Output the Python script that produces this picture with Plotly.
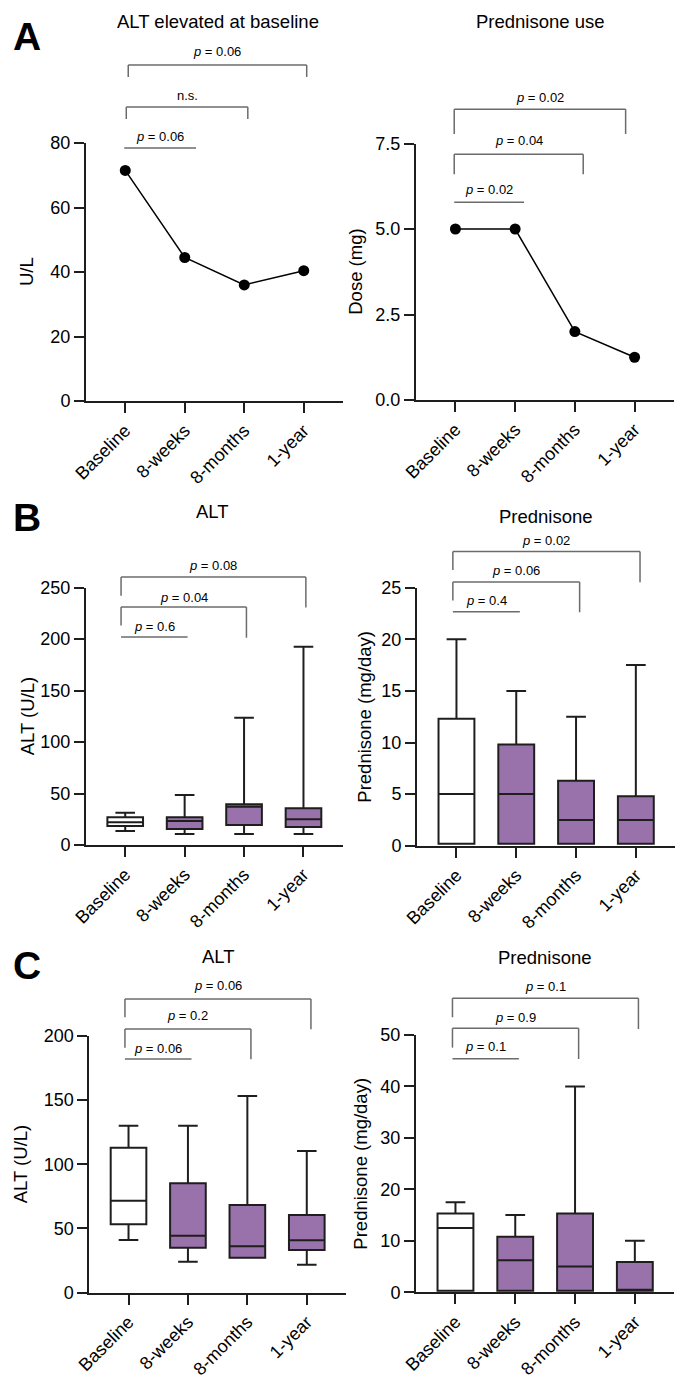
import plotly.graph_objects as go

# the page body keeps an 8px margin, so the figure is drawn 8px smaller
OFF = 8
W, H = 692 - OFF, 1378 - OFF

categories = ["Baseline", "8-weeks", "8-months", "1-year"]

# Panel A: medians over time
alt_elevated = [71.5, 44.5, 36.0, 40.4]
pred_use = [5.0, 5.0, 2.0, 1.25]

# Panel B: box stats (lower whisker, q1, median, q3, upper whisker)
b_alt_low = [13.6, 10.7, 10.7, 10.7]
b_alt_q1 = [18.4, 15.5, 19.4, 17.5]
b_alt_med = [22.0, 23.3, 37.2, 24.9]
b_alt_q3 = [26.9, 26.9, 39.5, 35.6]
b_alt_high = [31.4, 48.5, 123.6, 192.5]

b_pred_low = [0.2, 0.2, 0.2, 0.2]
b_pred_q1 = [0.2, 0.2, 0.2, 0.2]
b_pred_med = [5.0, 5.0, 2.5, 2.5]
b_pred_q3 = [12.3, 9.8, 6.3, 4.8]
b_pred_high = [20.0, 15.0, 12.5, 17.5]

# Panel C
c_alt_low = [40.9, 24.0, 27.1, 21.7]
c_alt_q1 = [53.2, 34.9, 27.1, 33.1]
c_alt_med = [71.6, 44.3, 36.0, 40.7]
c_alt_q3 = [112.9, 85.1, 68.2, 60.4]
c_alt_high = [130.0, 130.0, 153.2, 110.3]

c_pred_low = [0.3, 0.3, 0.3, 0.3]
c_pred_q1 = [0.3, 0.3, 0.3, 0.3]
c_pred_med = [12.5, 6.25, 5.0, 0.3]
c_pred_q3 = [15.3, 10.8, 15.3, 5.9]
c_pred_high = [17.5, 15.0, 40.0, 10.0]

# significance brackets: (x0, x1, y line, left leg end, right leg end, text y, label)
brackets = {
    1: [(0.05, 3.05, 1.302, 1.256, 1.256, 1.353, "<i>p</i> = 0.06"),
        (0.017, 2.06, 1.140, 1.093, 1.093, 1.186, "n.s."),
        (-0.017, 1.19, 0.981, 0.981, 0.981, 1.027, "<i>p</i> = 0.06")],
    2: [(-0.02, 2.85, 1.134, 1.037, 1.037, 1.181, "<i>p</i> = 0.02"),
        (-0.02, 2.14, 0.958, 0.880, 0.880, 1.010, "<i>p</i> = 0.04"),
        (-0.02, 1.15, 0.771, 0.771, 0.771, 0.819, "<i>p</i> = 0.02")],
    3: [(-0.07, 3.04, 1.041, 0.968, 0.922, 1.084, "<i>p</i> = 0.08"),
        (-0.07, 2.04, 0.924, 0.852, 0.805, 0.963, "<i>p</i> = 0.04"),
        (-0.07, 1.05, 0.808, 0.808, 0.808, 0.848, "<i>p</i> = 0.6")],
    4: [(-0.06, 3.07, 1.140, 1.069, 1.021, 1.182, "<i>p</i> = 0.02"),
        (-0.06, 2.06, 1.022, 0.950, 0.905, 1.066, "<i>p</i> = 0.06"),
        (-0.06, 1.06, 0.907, 0.907, 0.907, 0.952, "<i>p</i> = 0.4")],
    5: [(-0.06, 3.07, 1.144, 1.073, 1.026, 1.195, "<i>p</i> = 0.06"),
        (-0.06, 2.06, 1.027, 0.954, 0.909, 1.081, "<i>p</i> = 0.2"),
        (-0.06, 1.06, 0.910, 0.910, 0.910, 0.952, "<i>p</i> = 0.06")],
    6: [(-0.05, 3.06, 1.143, 1.069, 1.023, 1.190, "<i>p</i> = 0.1"),
        (-0.05, 2.06, 1.026, 0.951, 0.907, 1.067, "<i>p</i> = 0.9"),
        (-0.05, 1.06, 0.908, 0.908, 0.908, 0.954, "<i>p</i> = 0.1")],
}

FONT = "Arial, Liberation Sans, sans-serif"
INK = "#1e1e1e"
PURPLE = "#9a72ab"
GREY = "#6b6b6b"


def px(x):
    return (x - OFF) / W


def py(y):
    return 1 - (y - OFF) / H


# axis pixel boxes: left, right, top, bottom
boxes = {
    1: (86, 343, 143, 401),
    2: (416, 674, 143.5, 400),
    3: (86, 342.7, 587.5, 845),
    4: (417, 675.3, 587.7, 845.7),
    5: (89.3, 346, 1036, 1292.5),
    6: (416, 674.3, 1035, 1292.3),
}
yranges = {1: (0, 80, 20), 2: (0, 7.5, 2.5), 3: (0, 250, 50),
           4: (0, 25, 5), 5: (0, 200, 50), 6: (0, 50, 10)}

fig = go.Figure()


def add_boxes(n, low, q1, med, q3, high):
    ax = "" if n == 1 else str(n)
    for idx, color in [([0], "white"), ([1, 2, 3], PURPLE)]:
        fig.add_trace(go.Box(
            x=[categories[i] for i in idx],
            lowerfence=[low[i] for i in idx],
            q1=[q1[i] for i in idx],
            median=[med[i] for i in idx],
            q3=[q3[i] for i in idx],
            upperfence=[high[i] for i in idx],
            fillcolor=color,
            line=dict(color=INK, width=2),
            width=0.6,
            whiskerwidth=0.55,
            boxpoints=False,
            xaxis="x" + ax, yaxis="y" + ax,
            showlegend=False,
        ))


fig.add_trace(go.Scatter(x=categories, y=alt_elevated, mode="lines+markers",
                         line=dict(color="black", width=1.5),
                         marker=dict(color="black", size=11),
                         cliponaxis=False, showlegend=False,
                         xaxis="x", yaxis="y"))
fig.add_trace(go.Scatter(x=categories, y=pred_use, mode="lines+markers",
                         line=dict(color="black", width=1.5),
                         marker=dict(color="black", size=11),
                         cliponaxis=False, showlegend=False,
                         xaxis="x2", yaxis="y2"))

add_boxes(3, b_alt_low, b_alt_q1, b_alt_med, b_alt_q3, b_alt_high)
add_boxes(4, b_pred_low, b_pred_q1, b_pred_med, b_pred_q3, b_pred_high)
add_boxes(5, c_alt_low, c_alt_q1, c_alt_med, c_alt_q3, c_alt_high)
add_boxes(6, c_pred_low, c_pred_q1, c_pred_med, c_pred_q3, c_pred_high)

layout = dict(
    template="none",
    width=W, height=H, autosize=False,
    margin=dict(l=0, r=0, t=0, b=0, pad=0),
    paper_bgcolor="white", plot_bgcolor="white",
    font=dict(family=FONT, color="black"),
    boxmode="overlay",
)
axis_common = dict(showline=True, linecolor=INK, linewidth=2,
                   ticks="outside", ticklen=10, tickwidth=2, tickcolor=INK,
                   showgrid=False, zeroline=False, automargin=False,
                   tickfont=dict(size=18, family=FONT, color="black"))
for n, (l, r, t, b) in boxes.items():
    ax = "" if n == 1 else str(n)
    y0, y1, dt = yranges[n]
    layout["xaxis" + ax] = dict(axis_common, domain=[px(l), px(r)],
                                anchor="y" + ax, type="category",
                                categoryorder="array", categoryarray=categories,
                                range=[-0.66, 3.66], tickangle=-45)
    yax = dict(axis_common, domain=[py(b), py(t)], anchor="x" + ax,
               range=[y0, y1], dtick=dt, tick0=0)
    if n == 2:
        yax["tickformat"] = ".1f"
    layout["yaxis" + ax] = yax

fig.update_layout(**layout)

# brackets
for n, items in brackets.items():
    ax = "" if n == 1 else str(n)
    xr, yr = "x" + ax, "y" + ax + " domain"
    for x0, x1, yl, yleg0, yleg1, yt, label in items:
        line = dict(color=GREY, width=1.5)
        fig.add_shape(type="line", xref=xr, yref=yr, x0=x0, x1=x1, y0=yl, y1=yl, line=line)
        if yleg0 != yl:
            fig.add_shape(type="line", xref=xr, yref=yr, x0=x0, x1=x0, y0=yl, y1=yleg0, line=line)
        if yleg1 != yl:
            fig.add_shape(type="line", xref=xr, yref=yr, x0=x1, x1=x1, y0=yl, y1=yleg1, line=line)
        fig.add_annotation(x=(x0 + x1) / 2, y=yt, xref=xr, yref=yr, text=label,
                           showarrow=False, xanchor="center", yanchor="middle",
                           font=dict(size=13, family=FONT, color="black"))

# titles, panel letters, y-axis titles
texts = [
    ("ALT elevated at baseline", 217.5, 22),
    ("Prednisone use", 540, 22),
    ("ALT", 212, 512),
    ("Prednisone", 546, 516.5),
    ("ALT", 218.7, 956.7),
    ("Prednisone", 545.3, 957.3),
]
for t, x, y in texts:
    fig.add_annotation(text=t, x=px(x), y=py(y), xref="paper", yref="paper",
                       showarrow=False, xanchor="center", yanchor="middle",
                       font=dict(size=18.5, family=FONT, color="black"))

for t, x, y in [("A", 26.5, 36), ("B", 27, 517), ("C", 27, 965)]:
    fig.add_annotation(text="<b>%s</b>" % t, x=px(x), y=py(y), xref="paper", yref="paper",
                       showarrow=False, xanchor="center", yanchor="middle",
                       font=dict(size=39, family=FONT, color="black"))

ytitles = [("U/L", 27, 1), ("Dose (mg)", 356, 2), ("ALT (U/L)", 27, 3),
           ("Prednisone (mg/day)", 365, 4), ("ALT (U/L)", 20, 5),
           ("Prednisone (mg/day)", 361, 6)]
for t, x, n in ytitles:
    l, r, top, bot = boxes[n]
    fig.add_annotation(text=t, x=px(x), y=py((top + bot) / 2), xref="paper", yref="paper",
                       showarrow=False, textangle=-90, xanchor="center", yanchor="middle",
                       font=dict(size=18.5, family=FONT, color="black"))

fig.write_html("out.html")
